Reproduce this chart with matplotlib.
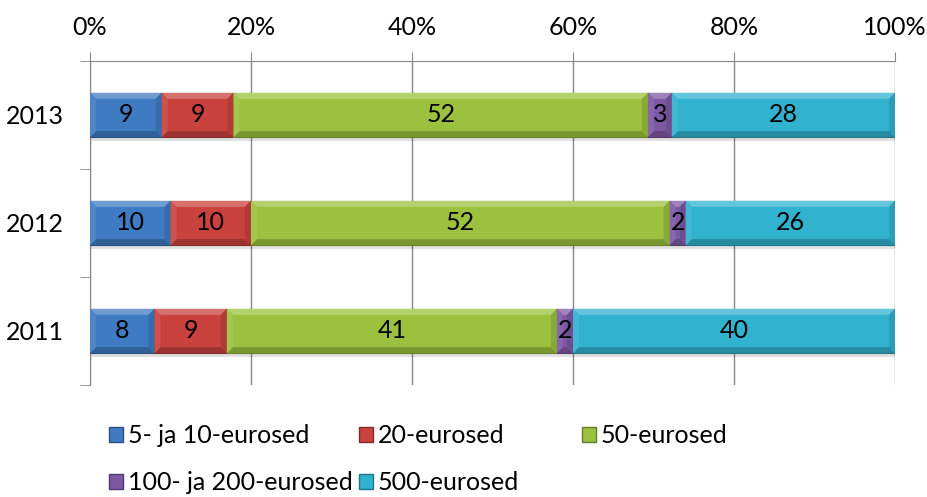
import numpy as np
import matplotlib.pyplot as plt
from matplotlib.patches import Polygon, Rectangle, Patch
import matplotlib.colors as mcolors

plt.rcParams['font.family'] = ['Lato', 'DejaVu Sans']

# andmed (loetud pildilt)
aastad = ['2011', '2012', '2013']
seeriad = ['5- ja 10-eurosed', '20-eurosed', '50-eurosed',
           '100- ja 200-eurosed', '500-eurosed']
v_5_10 = [8, 10, 9]
v_20 = [9, 10, 9]
v_50 = [41, 52, 52]
v_100_200 = [2, 2, 3]
v_500 = [40, 26, 28]
protsendid = [0, 20, 40, 60, 80, 100]

varvid = ['#3f7bc2', '#c9423e', '#9cc13e', '#7d59a5', '#31b2cf']
hall = '#868686'
fs = 18


def toon(c, f):
    r = np.array(mcolors.to_rgb(c))
    if f > 0:
        return tuple(r + (1 - r) * f)
    return tuple(r * (1 + f))


andmed = np.array([v_5_10, v_20, v_50, v_100_200, v_500], dtype=float)
summad = andmed.sum(axis=0)
osakaal = andmed / summad * 100

W, H = 927, 497
fig = plt.figure(figsize=(W / 100, H / 100), dpi=100)
ax = fig.add_axes([90 / W, 1 - 385 / H, 805 / W, 324 / H])
ax.set_xlim(0, 100)
ax.set_ylim(-0.5, 2.5)

y = np.arange(len(aastad))
korgus = 0.41
bx = 6 / 805 * 100
by = 6 / 108

vasak = np.zeros(len(aastad))
for i in range(len(seeriad)):
    bars = ax.barh(y, osakaal[i], left=vasak, height=korgus, color=varvid[i],
                   edgecolor=toon(varvid[i], -0.35), linewidth=0.8, zorder=3)
    for j, b in enumerate(bars):
        x0, y0, w, h = b.get_x(), b.get_y(), b.get_width(), b.get_height()
        c = varvid[i]
        yl = y0 + h
        ax.add_patch(Polygon([(x0, yl), (x0 + w, yl), (x0 + w - bx, yl - by), (x0 + bx, yl - by)],
                             closed=True, color=toon(c, 0.25), lw=0, zorder=4))
        ax.add_patch(Polygon([(x0, y0), (x0 + w, y0), (x0 + w - bx, y0 + by), (x0 + bx, y0 + by)],
                             closed=True, color=toon(c, -0.22), lw=0, zorder=4))
        ax.add_patch(Polygon([(x0, y0), (x0 + bx, y0 + by), (x0 + bx, yl - by), (x0, yl)],
                             closed=True, color=toon(c, 0.08), lw=0, zorder=4))
        ax.add_patch(Polygon([(x0 + w, y0), (x0 + w - bx, y0 + by), (x0 + w - bx, yl - by), (x0 + w, yl)],
                             closed=True, color=toon(c, -0.12), lw=0, zorder=4))
        if i == 0:
            ax.add_patch(Rectangle((0, y0 - 0.035), 100, 0.035, color='#000000',
                                   alpha=0.12, lw=0, zorder=2))
        ax.text(x0 + w / 2, y0 + h / 2, str(int(andmed[i, j])), ha='center', va='center',
                fontsize=fs, color='black', zorder=5)
    vasak = vasak + osakaal[i]

ax.xaxis.tick_top()
ax.set_xticks(protsendid)
ax.set_xticklabels([f'{p}%' for p in protsendid])
ax.tick_params(axis='x', top=True, bottom=False, length=6.5, color=hall, pad=9,
               labelsize=fs)
ax.grid(axis='x', color=hall, lw=1, zorder=1)

ax.set_yticks(y)
ax.set_yticklabels(aastad)
ax.set_yticks([-0.5, 0.5, 1.5, 2.5], minor=True)
ax.tick_params(axis='y', which='major', length=0, pad=19, labelsize=fs)
ax.tick_params(axis='y', which='minor', length=7, color=hall)

for s in ['right', 'bottom']:
    ax.spines[s].set_visible(False)
for s in ['top', 'left']:
    ax.spines[s].set_color(hall)

kastid = [Patch(facecolor=varvid[i], edgecolor=toon(varvid[i], -0.35)) for i in range(5)]
veerud = [([0, 3], 109), ([1, 4], 359), ([2], 582)]
for idx, xp in veerud:
    fig.legend([kastid[k] for k in idx], [seeriad[k] for k in idx],
               loc='upper left', bbox_to_anchor=(xp / W, 1 - 424 / H),
               frameon=False, fontsize=fs, handlelength=0.55, handleheight=0.55,
               handletextpad=0.2, labelspacing=0.98, borderpad=0, borderaxespad=0)

fig.savefig('out.png', dpi=100)
